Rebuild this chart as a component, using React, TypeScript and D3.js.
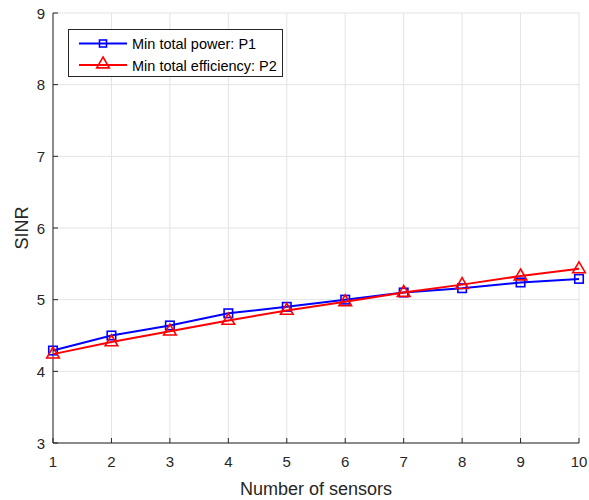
import React from "react";
import * as d3 from "d3";

const sensors = [1, 2, 3, 4, 5, 6, 7, 8, 9, 10];
const p1Values = [4.29, 4.5, 4.64, 4.81, 4.9, 5.0, 5.1, 5.16, 5.24, 5.29];
const p2Values = [4.24, 4.41, 4.56, 4.71, 4.85, 4.97, 5.1, 5.21, 5.33, 5.43];
const xTicks = [1, 2, 3, 4, 5, 6, 7, 8, 9, 10];
const yTicks = [3, 4, 5, 6, 7, 8, 9];
const seriesNames = ["Min total power: P1", "Min total efficiency: P2"];

const W = 589, H = 500;
const L = 53, R = 579, T = 13, B = 443;
const axisColor = "#262626";
const font = "'Liberation Sans', Arial, sans-serif";

function Square({ x, y, color, s = 8.5 }: { x: number; y: number; color: string; s?: number }) {
  return <rect x={x - s / 2} y={y - s / 2} width={s} height={s} fill="none" stroke={color} strokeWidth={1.6} />;
}
function Tri({ x, y, color, r = 7 }: { x: number; y: number; color: string; r?: number }) {
  const pts = [[x, y - r], [x + r * 0.9, y + r * 0.55], [x - r * 0.9, y + r * 0.55]];
  return <polygon points={pts.map((p) => p.join(",")).join(" ")} fill="none" stroke={color} strokeWidth={1.6} />;
}

export default function App() {
  const x = d3.scaleLinear().domain([1, 10]).range([L, R]);
  const y = d3.scaleLinear().domain([3, 9]).range([B, T]);
  const line = d3.line<number>().x((_, i) => x(sensors[i])).y((d) => y(d));
  return (
    <svg width={W} height={H} style={{ position: "absolute", left: 0, top: 0, background: "#fff" }}>
      <rect width={W} height={H} fill="#fff" />
      {xTicks.map((t) => (
        <line key={"gx" + t} x1={x(t)} x2={x(t)} y1={T} y2={B} stroke="#e3e3e3" strokeWidth={1} />
      ))}
      {yTicks.map((t) => (
        <line key={"gy" + t} x1={L} x2={R} y1={y(t)} y2={y(t)} stroke="#e3e3e3" strokeWidth={1} />
      ))}
      <line x1={L} x2={L} y1={T} y2={B} stroke={axisColor} strokeWidth={1} />
      <line x1={L} x2={R} y1={B} y2={B} stroke={axisColor} strokeWidth={1} />
      {xTicks.map((t) => (
        <g key={"tx" + t}>
          <line x1={x(t)} x2={x(t)} y1={B} y2={B - 5} stroke={axisColor} />
          <text x={x(t)} y={467} textAnchor="middle" fontFamily={font} fontSize={15} fill={axisColor}>{t}</text>
        </g>
      ))}
      {yTicks.map((t) => (
        <g key={"ty" + t}>
          <line x1={L} x2={L + 5} y1={y(t)} y2={y(t)} stroke={axisColor} />
          <text x={45} y={y(t) + 5.5} textAnchor="end" fontFamily={font} fontSize={15} fill={axisColor}>{t}</text>
        </g>
      ))}
      <text x={(L + R) / 2} y={495} textAnchor="middle" fontFamily={font} fontSize={18} fill={axisColor}>Number of sensors</text>
      <text transform={`translate(28,${(T + B) / 2}) rotate(-90)`} textAnchor="middle" fontFamily={font} fontSize={18} fill={axisColor}>SINR</text>
      <path d={line(p1Values) || ""} fill="none" stroke="#0000ff" strokeWidth={2} />
      {p1Values.map((v, i) => <Square key={"s" + i} x={x(sensors[i])} y={y(v)} color="#0000ff" />)}
      <path d={line(p2Values) || ""} fill="none" stroke="#ff0000" strokeWidth={2} />
      {p2Values.map((v, i) => <Tri key={"t" + i} x={x(sensors[i])} y={y(v)} color="#ff0000" />)}
      <g>
        <rect x={68.5} y={29.5} width={214} height={47} fill="#fff" stroke={axisColor} strokeWidth={1} />
        <line x1={79} x2={127} y1={43.5} y2={43.5} stroke="#0000ff" strokeWidth={2} />
        <Square x={103} y={43.5} color="#0000ff" s={7} />
        <text x={132} y={49} fontFamily={font} fontSize={14.5} fill="#000">{seriesNames[0]}</text>
        <line x1={79} x2={127} y1={65} y2={65} stroke="#ff0000" strokeWidth={2} />
        <Tri x={103} y={64} color="#ff0000" r={7} />
        <text x={132} y={70.5} fontFamily={font} fontSize={14.5} fill="#000">{seriesNames[1]}</text>
      </g>
    </svg>
  );
}
